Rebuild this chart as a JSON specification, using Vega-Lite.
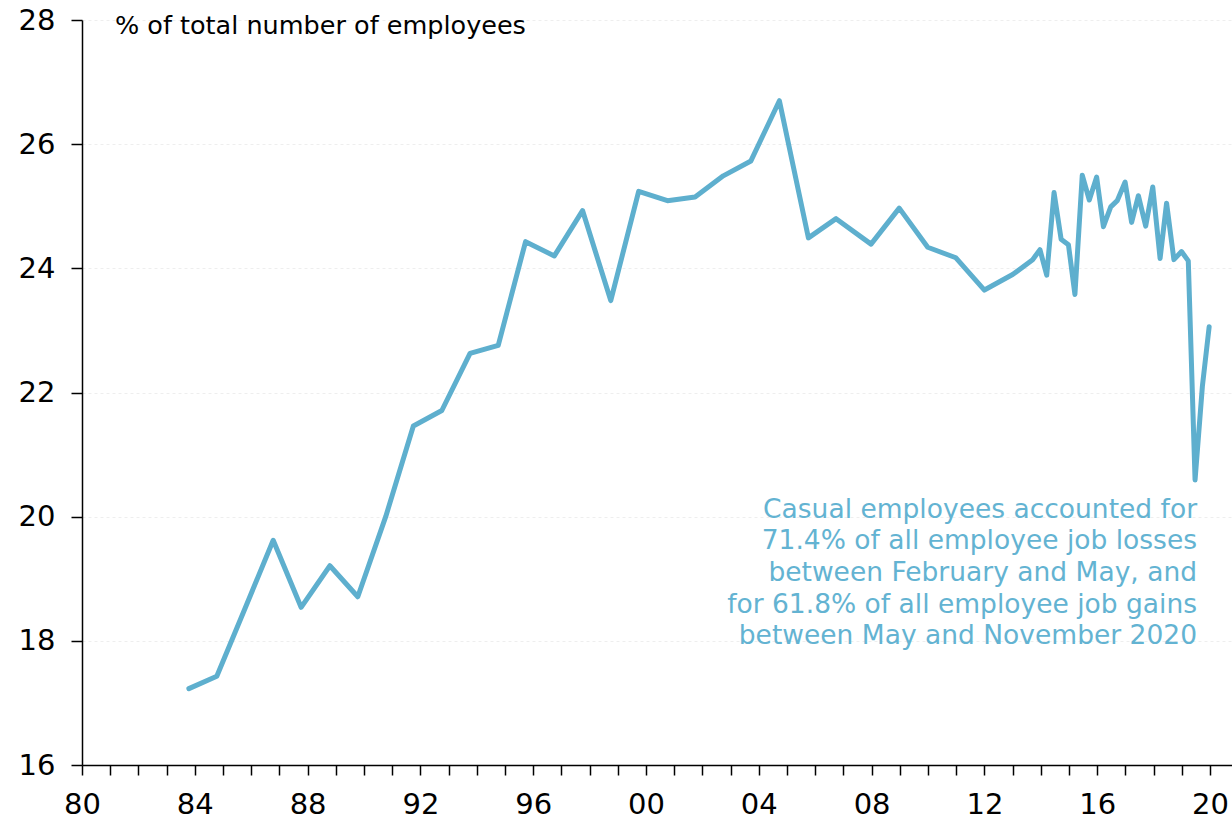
{
  "$schema": "https://vega.github.io/schema/vega-lite/v6.json",
  "width": 1150,
  "height": 745,
  "autosize": "none",
  "padding": {"left": 82, "top": 20, "right": 0, "bottom": 55},
  "background": "white",
  "config": {
    "view": {"stroke": null},
    "font": "DejaVu Sans"
  },
  "layer": [
    {
      "data": {
        "values": [
          {"t": 1983.79, "v": 17.23},
          {"t": 1984.78, "v": 17.43},
          {"t": 1985.78, "v": 18.52},
          {"t": 1986.78, "v": 19.62},
          {"t": 1987.77, "v": 18.54},
          {"t": 1988.79, "v": 19.21},
          {"t": 1989.78, "v": 18.71},
          {"t": 1990.77, "v": 20.0},
          {"t": 1991.75, "v": 21.46},
          {"t": 1992.76, "v": 21.71},
          {"t": 1993.76, "v": 22.63},
          {"t": 1994.76, "v": 22.76},
          {"t": 1995.73, "v": 24.43},
          {"t": 1996.75, "v": 24.2},
          {"t": 1997.75, "v": 24.93},
          {"t": 1998.75, "v": 23.48},
          {"t": 1999.74, "v": 25.24},
          {"t": 2000.76, "v": 25.09},
          {"t": 2001.74, "v": 25.15},
          {"t": 2002.74, "v": 25.49},
          {"t": 2003.72, "v": 25.73},
          {"t": 2004.73, "v": 26.7},
          {"t": 2005.76, "v": 24.49},
          {"t": 2006.74, "v": 24.8},
          {"t": 2007.98, "v": 24.39},
          {"t": 2008.98, "v": 24.97},
          {"t": 2009.99, "v": 24.34},
          {"t": 2010.99, "v": 24.17},
          {"t": 2012.0, "v": 23.65},
          {"t": 2013.0, "v": 23.9},
          {"t": 2013.71, "v": 24.14},
          {"t": 2013.97, "v": 24.3},
          {"t": 2014.21, "v": 23.89},
          {"t": 2014.47, "v": 25.22},
          {"t": 2014.72, "v": 24.47},
          {"t": 2014.98, "v": 24.38},
          {"t": 2015.21, "v": 23.58},
          {"t": 2015.47, "v": 25.5},
          {"t": 2015.72, "v": 25.1},
          {"t": 2015.98, "v": 25.47},
          {"t": 2016.22, "v": 24.67},
          {"t": 2016.48, "v": 24.99},
          {"t": 2016.71, "v": 25.09},
          {"t": 2016.99, "v": 25.39},
          {"t": 2017.22, "v": 24.74},
          {"t": 2017.46, "v": 25.17},
          {"t": 2017.72, "v": 24.68},
          {"t": 2017.97, "v": 25.31},
          {"t": 2018.23, "v": 24.16},
          {"t": 2018.46, "v": 25.05},
          {"t": 2018.72, "v": 24.14},
          {"t": 2018.99, "v": 24.27},
          {"t": 2019.23, "v": 24.12},
          {"t": 2019.47, "v": 20.59},
          {"t": 2019.73, "v": 22.1},
          {"t": 2019.97, "v": 23.06}
        ]
      },
      "mark": {"type": "line", "color": "#5EAFCE", "strokeWidth": 5, "strokeJoin": "round", "strokeCap": "round"},
      "encoding": {
        "x": {
          "field": "t", "type": "quantitative",
          "scale": {"domain": [1980, 2020.78], "nice": false, "zero": false},
          "axis": {
            "title": null,
            "tickCount": 41,
            "values": [1980,1981,1982,1983,1984,1985,1986,1987,1988,1989,1990,1991,1992,1993,1994,1995,1996,1997,1998,1999,2000,2001,2002,2003,2004,2005,2006,2007,2008,2009,2010,2011,2012,2013,2014,2015,2016,2017,2018,2019,2020],
            "labelExpr": "datum.value % 4 == 0 ? substring(toString(datum.value), 2, 4) : ''",
            "grid": false,
            "domainColor": "#000000",
            "domainWidth": 1.5,
            "tickColor": "#000000",
            "tickWidth": 1.5,
            "tickSize": 10,
            "labelFontSize": 29,
            "labelColor": "#000000",
            "labelPadding": 15,
            "labelFlush": false,
            "labelOverlap": false,
            "labelBound": false
          }
        },
        "y": {
          "field": "v", "type": "quantitative",
          "scale": {"domain": [16, 28], "nice": false, "zero": false},
          "axis": {
            "title": null,
            "values": [16, 18, 20, 22, 24, 26, 28],
            "format": "d",
            "grid": true,
            "gridColor": "#eeeeee",
            "gridDash": [3, 3],
            "gridWidth": 1,
            "domainColor": "#000000",
            "domainWidth": 1.5,
            "tickColor": "#000000",
            "tickWidth": 1.5,
            "tickSize": 11,
            "labelFontSize": 29,
            "labelColor": "#000000",
            "labelPadding": 16
          }
        }
      }
    },
    {
      "data": {"values": [{}]},
      "mark": {"type": "text", "align": "left", "baseline": "middle", "fontSize": 25.5, "color": "#000000"},
      "encoding": {
        "x": {"datum": 1981.17, "type": "quantitative"},
        "y": {"datum": 27.9, "type": "quantitative"},
        "text": {"value": "% of total number of employees"}
      }
    },
    {
      "data": {"values": [{}]},
      "mark": {"type": "text", "align": "right", "baseline": "middle", "fontSize": 26.5, "lineHeight": 31.6, "color": "#63B3D2"},
      "encoding": {
        "x": {"datum": 2019.54, "type": "quantitative"},
        "y": {"datum": 20.11, "type": "quantitative"},
        "text": {"value": ["Casual employees accounted for", "71.4% of all employee job losses", "between February and May, and", "for 61.8% of all employee job gains", "between May and November 2020"]}
      }
    }
  ]
}
